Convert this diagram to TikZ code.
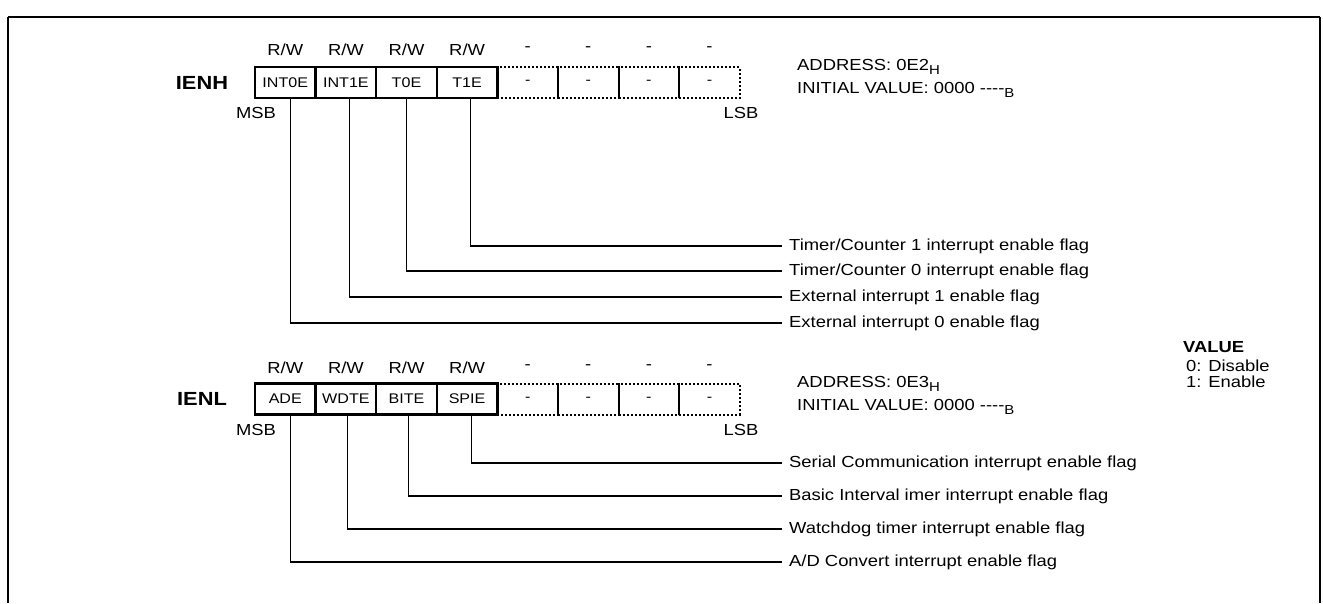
\documentclass[tikz,border=0pt]{standalone}
\usepackage{fontspec}
\setmainfont{Liberation Sans}[FakeStretch=1.15]
\newcommand\lblfont{\fontsize{16}{19}\selectfont}
\newcommand\cellfont{\fontsize{14}{17}\selectfont}
\newcommand\regfont{\fontsize{19}{22}\selectfont\bfseries}
\newcommand\lowsub[1]{\raisebox{-0.45ex}{\fontsize{13}{13}\selectfont #1}}
\begin{document}
\begin{tikzpicture}[x=1pt,y=-1pt,
  lbl/.style={inner sep=0pt, font=\lblfont},
  cellbox/.style={draw, line width=2.4pt, minimum width=60.6pt, minimum height=31pt, inner sep=0pt, font=\cellfont},
  dotcell/.style={draw, line width=2pt, dash pattern=on 2pt off 2pt, minimum width=60.6pt, minimum height=31pt, inner sep=0pt, font=\cellfont},
  flag/.style={anchor=west, inner xsep=7pt, inner ysep=0pt, font=\lblfont},
  conn/.style={draw, line width=1.1pt},
  regname/.style={inner sep=0pt, font=\regfont},
  addr/.style={anchor=west, inner sep=0pt, font=\lblfont}]
\useasboundingbox (0,0) rectangle (1323,603);
% frame
\draw[line width=2pt] (8,17) -- (1320,17);
\draw[line width=1.1pt] (8,17) -- (8,603);
\draw[line width=1.1pt] (1320,17) -- (1320,603);

% ---------- IENH ----------
\node[regname] (ienh) at (202,83) {IENH};
\foreach \i in {4,...,7} {
  \node[dotcell] (hd\i) at (285.3+60.6*\i, 82.5) {-};
  \node[lbl] (hrw\i) at (285.3+60.6*\i, 49) {-};
}
\foreach \t [count=\i from 0] in {INT0E,INT1E,T0E,T1E} {
  \node[cellbox] (h\i) at (285.3+60.6*\i, 82.5) {\t};
  \node[lbl] (hrw\i) at (285.3+60.6*\i, 50) {R/W};
}
\node[lbl] (hmsb) at (256,113) {MSB};
\node[lbl] (hlsb) at (741,113) {LSB};
\node[addr] (haddr) at (797,67) {ADDRESS: 0E2\lowsub{H}};
\node[addr] (hinit) at (797,90) {INITIAL VALUE: 0000 {-}{-}{-}{-}\lowsub{B}};

\node[flag] (fh3) at (782,246) {Timer/Counter 1 interrupt enable flag};
\node[flag] (fh2) at (782,271) {Timer/Counter 0 interrupt enable flag};
\node[flag] (fh1) at (782,297) {External interrupt 1 enable flag};
\node[flag] (fh0) at (782,323) {External interrupt 0 enable flag};
\draw[conn] ([xshift=3pt]h3.south) |- (fh3.west);
\draw[conn] ([xshift=0pt]h2.south) |- (fh2.west);
\draw[conn] ([xshift=4pt]h1.south) |- (fh1.west);
\draw[conn] ([xshift=5pt]h0.south) |- (fh0.west);

% ---------- VALUE ----------
\node[addr, font=\lblfont\bfseries] (valt) at (1183,347) {VALUE};
\node[addr] (val0) at (1186,366) {0: Disable};
\node[addr] (val1) at (1186,382) {1: Enable};

% ---------- IENL ----------
\node[regname] (ienl) at (202,399) {IENL};
\foreach \i in {4,...,7} {
  \node[dotcell] (ld\i) at (285.3+60.6*\i, 399) {-};
  \node[lbl] (lrw\i) at (285.3+60.6*\i, 367) {-};
}
\foreach \t [count=\i from 0] in {ADE,WDTE,BITE,SPIE} {
  \node[cellbox] (l\i) at (285.3+60.6*\i, 399) {\t};
  \node[lbl] (lrw\i) at (285.3+60.6*\i, 368) {R/W};
}
\node[lbl] (lmsb) at (256,430) {MSB};
\node[lbl] (llsb) at (741,430) {LSB};
\node[addr] (laddr) at (797,384) {ADDRESS: 0E3\lowsub{H}};
\node[addr] (linit) at (797,407) {INITIAL VALUE: 0000 {-}{-}{-}{-}\lowsub{B}};

\node[flag] (fl3) at (782,463) {Serial Communication interrupt enable flag};
\node[flag] (fl2) at (782,496) {Basic Interval imer interrupt enable flag};
\node[flag] (fl1) at (782,529) {Watchdog timer interrupt enable flag};
\node[flag] (fl0) at (782,562) {A/D Convert interrupt enable flag};
\draw[conn] ([xshift=4pt]l3.south) |- (fl3.west);
\draw[conn] ([xshift=2pt]l2.south) |- (fl2.west);
\draw[conn] ([xshift=2pt]l1.south) |- (fl1.west);
\draw[conn] ([xshift=5pt]l0.south) |- (fl0.west);
\end{tikzpicture}
\end{document}
